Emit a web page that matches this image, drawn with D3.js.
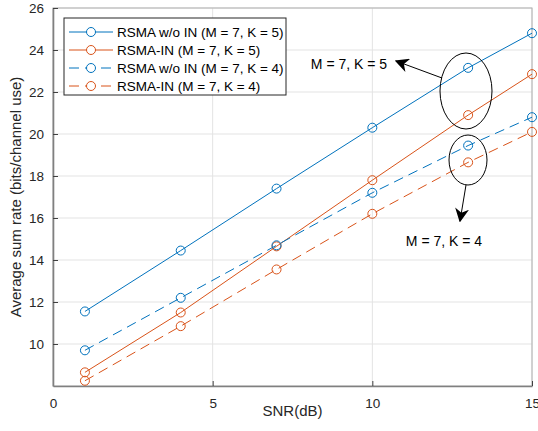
<!DOCTYPE html>
<html>
<head>
<meta charset="utf-8">
<script src="https://cdn.jsdelivr.net/npm/d3@7"></script>
<style>
  body { margin: 0; background: #fff; }
  text { font-family: "Liberation Sans", Arial, sans-serif; }
</style>
</head>
<body>
<script>
var snr = [1, 4, 7, 10, 13, 15];
var rsmaNoIn5 = [11.55, 14.45, 17.4, 20.3, 23.15, 24.8];
var rsmaIn5 = [8.65, 11.5, 14.65, 17.8, 20.9, 22.85];
var rsmaNoIn4 = [9.7, 12.2, 14.7, 17.2, 19.45, 20.8];
var rsmaIn4 = [8.25, 10.85, 13.55, 16.2, 18.65, 20.1];
var xTicks = [0, 5, 10, 15];
var yTicks = [10, 12, 14, 16, 18, 20, 22, 24, 26];
var seriesNames = ["RSMA w/o IN (M = 7, K = 5)", "RSMA-IN (M = 7, K = 5)",
                   "RSMA w/o IN (M = 7, K = 4)", "RSMA-IN (M = 7, K = 4)"];

var blue = "#0072BD", orange = "#D95319";
var series = [
    { name: seriesNames[0], values: rsmaNoIn5, color: blue, dash: null },
    { name: seriesNames[1], values: rsmaIn5, color: orange, dash: null },
    { name: seriesNames[2], values: rsmaNoIn4, color: blue, dash: "10,6" },
    { name: seriesNames[3], values: rsmaIn4, color: orange, dash: "10,6" }
];

var width = 538, height = 431;
var plot = { left: 53, right: 532, top: 8, bottom: 386 };

var svg = d3.select("body").append("svg")
    .attr("width", width)
    .attr("height", height);

var x = d3.scaleLinear().domain([0, 15]).range([plot.left, plot.right]);
var y = d3.scaleLinear().domain([8, 26]).range([plot.bottom, plot.top]);

// grid
svg.append("g").selectAll("line")
    .data(xTicks).enter().append("line")
    .attr("x1", d => x(d)).attr("x2", d => x(d))
    .attr("y1", plot.top).attr("y2", plot.bottom)
    .attr("stroke", "#e3e3e3").attr("stroke-width", 1);
svg.append("g").selectAll("line")
    .data(yTicks).enter().append("line")
    .attr("x1", plot.left).attr("x2", plot.right)
    .attr("y1", d => y(d)).attr("y2", d => y(d))
    .attr("stroke", "#e3e3e3").attr("stroke-width", 1);

// box
svg.append("rect")
    .attr("x", plot.left).attr("y", plot.top)
    .attr("width", plot.right - plot.left).attr("height", plot.bottom - plot.top)
    .attr("fill", "none").attr("stroke", "#b0b0b0").attr("stroke-width", 1);

var xAxis = svg.append("g")
    .attr("transform", "translate(0," + plot.bottom + ")")
    .call(d3.axisBottom(x).tickValues(xTicks).tickSizeInner(-5).tickSizeOuter(0).tickPadding(12));
var yAxis = svg.append("g")
    .attr("transform", "translate(" + plot.left + ",0)")
    .call(d3.axisLeft(y).tickValues(yTicks).tickSizeInner(-5).tickSizeOuter(0).tickPadding(9));
[xAxis, yAxis].forEach(function (a) {
    a.select(".domain").attr("stroke", "#808080").attr("stroke-width", 1.6);
    a.selectAll(".tick line").attr("stroke", "#404040");
    a.selectAll(".tick text").attr("fill", "#262626").style("font-size", "13.5px")
        .style("font-family", "Liberation Sans, Arial, sans-serif");
});

svg.append("text")
    .attr("x", (plot.left + plot.right) / 2).attr("y", 416)
    .attr("text-anchor", "middle").attr("fill", "#262626")
    .style("font-size", "15px")
    .text("SNR(dB)");
svg.append("text")
    .attr("transform", "translate(21," + ((plot.top + plot.bottom) / 2) + ") rotate(-90)")
    .attr("text-anchor", "middle").attr("fill", "#262626")
    .style("font-size", "15px")
    .text("Average sum rate (bits/channel use)");

var line = d3.line()
    .x((d, i) => x(snr[i]))
    .y(d => y(d));

series.forEach(function (s) {
    svg.append("path")
        .attr("d", line(s.values))
        .attr("fill", "none")
        .attr("stroke", s.color)
        .attr("stroke-width", 1)
        .attr("stroke-dasharray", s.dash);
    svg.append("g").selectAll("circle")
        .data(s.values).enter().append("circle")
        .attr("cx", (d, i) => x(snr[i]))
        .attr("cy", d => y(d))
        .attr("r", 4.5)
        .attr("fill", "none")
        .attr("stroke", s.color)
        .attr("stroke-width", 1);
});

// annotations
svg.append("defs").append("marker")
    .attr("id", "arrow")
    .attr("viewBox", "0 0 10 10")
    .attr("refX", 9).attr("refY", 5)
    .attr("markerWidth", 14).attr("markerHeight", 14)
    .attr("markerUnits", "userSpaceOnUse")
    .attr("orient", "auto")
    .append("path")
    .attr("d", "M0,0 L10,5 L0,10 L3,5 Z")
    .attr("fill", "#000");

svg.append("ellipse")
    .attr("cx", 466).attr("cy", 91).attr("rx", 26).attr("ry", 38)
    .attr("fill", "none").attr("stroke", "#000").attr("stroke-width", 1);
svg.append("ellipse")
    .attr("cx", 468).attr("cy", 160).attr("rx", 19).attr("ry", 25)
    .attr("fill", "none").attr("stroke", "#000").attr("stroke-width", 1);
svg.append("line")
    .attr("x1", 442).attr("y1", 78).attr("x2", 396).attr("y2", 61)
    .attr("stroke", "#000").attr("stroke-width", 1).attr("marker-end", "url(#arrow)");
svg.append("line")
    .attr("x1", 466).attr("y1", 185).attr("x2", 460).attr("y2", 221)
    .attr("stroke", "#000").attr("stroke-width", 1).attr("marker-end", "url(#arrow)");
svg.append("text")
    .attr("x", 349).attr("y", 69).attr("text-anchor", "middle")
    .attr("fill", "#000").style("font-size", "14px")
    .text("M = 7, K = 5");
svg.append("text")
    .attr("x", 444).attr("y", 246).attr("text-anchor", "middle")
    .attr("fill", "#000").style("font-size", "14px")
    .text("M = 7, K = 4");

// legend
var lg = svg.append("g");
lg.append("rect")
    .attr("x", 64).attr("y", 18).attr("width", 222).attr("height", 77)
    .attr("fill", "#fff").attr("stroke", "#262626").attr("stroke-width", 1);
series.forEach(function (s, i) {
    var ly = 32 + i * 18;
    lg.append("line")
        .attr("x1", 69).attr("x2", 113).attr("y1", ly).attr("y2", ly)
        .attr("stroke", s.color).attr("stroke-width", 1)
        .attr("stroke-dasharray", s.dash);
    lg.append("circle")
        .attr("cx", 91).attr("cy", ly).attr("r", 4.5)
        .attr("fill", "#fff").attr("stroke", s.color);
    lg.append("text")
        .attr("x", 117).attr("y", ly + 5)
        .attr("fill", "#000").style("font-size", "13.5px")
        .text(s.name);
});
</script>
</body>
</html>
